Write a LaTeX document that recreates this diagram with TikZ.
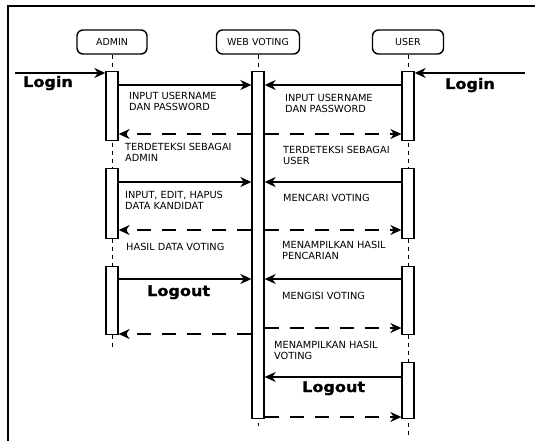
\documentclass[tikz,border=0pt]{standalone}
\usepackage{fontspec}
\setmainfont{DejaVu Sans}
\newfontfamily\bigfont[FakeStretch=1.1,FakeBold=1.6]{DejaVu Sans}
\usetikzlibrary{arrows.meta}
\begin{document}
\begin{tikzpicture}[x=1pt,y=-1pt,
  head/.style={draw, line width=1.4pt, rounded corners=6pt, minimum height=24pt, inner sep=0pt, font=\fontsize{9.5}{11}\selectfont},
  act/.style={draw, line width=1.3pt, fill=white, minimum width=12pt, inner sep=0pt},
  life/.style={line width=0.8pt, dash pattern=on 4pt off 4pt},
  msg/.style={line width=1.6pt, -{Stealth[length=11pt,width=10pt,inset=3.5pt]}},
  ret/.style={msg, dash pattern=on 14pt off 11pt},
  lbl/.style={anchor=north west, align=left, inner sep=0pt, font=\fontsize{9.8}{10.8}\selectfont},
  big/.style={anchor=base west, inner sep=0pt, font=\bigfont\bfseries\fontsize{14.6}{16}\selectfont}]
\useasboundingbox (0,0) rectangle (535,441);
% frame
\draw[line width=2pt] (8,441) -- (8,6) -- (535,6);
% headers
\node[head, minimum width=70pt] (adm) at (112,42) {ADMIN};
\node[head, minimum width=83pt] (web) at (258,42) {WEB VOTING};
\node[head, minimum width=71pt] (usr) at (408,42) {USER};
% lifeline ends
\coordinate (admend) at (112,349);
\coordinate (webend) at (258,426);
\coordinate (usrend) at (408,436);
\draw[life] (adm.south) -- (admend);
\draw[life] (web.south) -- (webend);
\draw[life] (usr.south) -- (usrend);
% activations
\node[act, minimum height=69pt, anchor=north] (a1) at (112,71) {};
\node[act, minimum height=70pt, anchor=north] (a2) at (112,168) {};
\node[act, minimum height=68pt, anchor=north] (a3) at (112,266) {};
\node[act, minimum height=347pt, anchor=north] (w) at (258,71) {};
\node[act, minimum height=69pt, anchor=north] (u1) at (408,71) {};
\node[act, minimum height=70pt, anchor=north] (u2) at (408,168) {};
\node[act, minimum height=68pt, anchor=north] (u3) at (408,266) {};
\node[act, minimum height=56pt, anchor=north] (u4) at (408,362) {};
% login arrows
\coordinate (ls) at (15,73);
\coordinate (rs) at (525,73);
\draw[msg] (ls) -- (a1.west |- ls);
\draw[msg] (rs) -- (u1.east |- rs);
% messages
\draw[msg] (a1.east |- 0,85) -- (w.west |- 0,85);
\draw[msg] (u1.west |- 0,85) -- (w.east |- 0,85);
\draw[ret] (w.west |- 0,134) -- (a1.east |- 0,134);
\draw[ret] (w.east |- 0,134) -- (u1.west |- 0,134);
\draw[msg] (a2.east |- 0,182) -- (w.west |- 0,182);
\draw[msg] (u2.west |- 0,182) -- (w.east |- 0,182);
\draw[ret] (w.west |- 0,230) -- (a2.east |- 0,230);
\draw[ret] (w.east |- 0,230) -- (u2.west |- 0,230);
\draw[msg] (a3.east |- 0,279) -- (w.west |- 0,279);
\draw[msg] (u3.west |- 0,279) -- (w.east |- 0,279);
\draw[ret] (w.east |- 0,328) -- (u3.west |- 0,328);
\draw[ret] (w.west |- 0,334) -- (a3.east |- 0,334);
\draw[msg] (u4.west |- 0,377) -- (w.east |- 0,377);
\draw[ret] (w.east |- 0,417) -- (u4.west |- 0,417);
% labels
\node[big] (l1) at (23,87) {Login};
\node[big] (l2) at (445,89) {Login};
\node[big] (lo1) at (147,296) {Logout};
\node[big] (lo2) at (302,392) {Logout};
\node[lbl] (t1) at (129,92) {INPUT USERNAME\\DAN PASSWORD};
\node[lbl] (t2) at (285,94) {INPUT USERNAME\\DAN PASSWORD};
\node[lbl] (t3) at (125,143) {TERDETEKSI SEBAGAI\\ADMIN};
\node[lbl] (t4) at (283,146) {TERDETEKSI SEBAGAI\\USER};
\node[lbl] (t5) at (125,191) {INPUT, EDIT, HAPUS\\DATA KANDIDAT};
\node[lbl] (t6) at (283,194) {MENCARI VOTING};
\node[lbl] (t7) at (126,243) {HASIL DATA VOTING};
\node[lbl] (t8) at (282,241) {MENAMPILKAN HASIL\\PENCARIAN};
\node[lbl] (t9) at (282,292) {MENGISI VOTING};
\node[lbl] (t10) at (274,341) {MENAMPILKAN HASIL\\VOTING};
\end{tikzpicture}
\end{document}
